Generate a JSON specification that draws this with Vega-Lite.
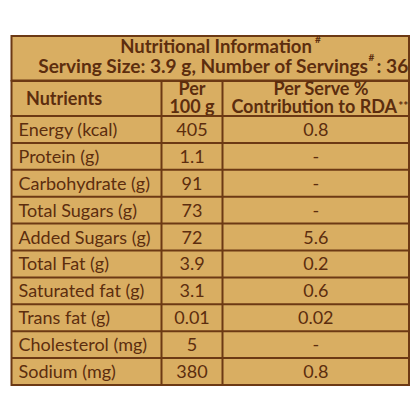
{
  "$schema": "https://vega.github.io/schema/vega-lite/v6.json",
  "description": "Nutritional information table: title, header and body stacked as three views.",
  "background": "white",
  "padding": {"left": 9.5, "top": 33, "right": 9, "bottom": 34.5},
  "spacing": 0,
  "bounds": "flush",
  "datasets": {
    "rows": [
      {"nutrient": "Energy (kcal)", "per100g": "405", "rda": "0.8"},
      {"nutrient": "Protein (g)", "per100g": "1.1", "rda": "-"},
      {"nutrient": "Carbohydrate (g)", "per100g": "91", "rda": "-"},
      {"nutrient": "Total Sugars (g)", "per100g": "73", "rda": "-"},
      {"nutrient": "Added Sugars (g)", "per100g": "72", "rda": "5.6"},
      {"nutrient": "Total Fat (g)", "per100g": "3.9", "rda": "0.2"},
      {"nutrient": "Saturated fat (g)", "per100g": "3.1", "rda": "0.6"},
      {"nutrient": "Trans fat (g)", "per100g": "0.01", "rda": "0.02"},
      {"nutrient": "Cholesterol (mg)", "per100g": "5", "rda": "-"},
      {"nutrient": "Sodium (mg)", "per100g": "380", "rda": "0.8"}
    ]
  },
  "vconcat": [
    {
      "width": 397.5,
      "height": 44.5,
      "data": {"values": [
        {"line": 1, "text": "Nutritional Information", "note": "#", "tail": ""},
        {"line": 2, "text": "Serving Size: 3.9 g, Number of Servings", "note": "#", "tail": ": 36"}
      ]},
      "encoding": {
        "y": {"field": "line", "type": "ordinal", "scale": {"type": "band", "paddingInner": 0, "paddingOuter": 0}, "axis": null}
      },
      "layer": [
        {
          "transform": [{"filter": "datum.line == 1"}],
          "mark": {"type": "text", "fontWeight": "bold", "fontSize": 18.5, "baseline": "alphabetic", "dx": 5.75, "dy": 5.9},
          "encoding": {"text": {"field": "text"}}
        },
        {
          "transform": [{"filter": "datum.line == 1"}],
          "mark": {"type": "text", "fontWeight": "bold", "fontSize": 10, "align": "left", "baseline": "alphabetic", "dx": 104.75, "dy": -4.2},
          "encoding": {"text": {"field": "note"}}
        },
        {
          "transform": [{"filter": "datum.line == 2"}],
          "mark": {"type": "text", "fontWeight": "bold", "fontSize": 19.1, "align": "right", "baseline": "alphabetic", "dx": 157.75, "dy": 3.6},
          "encoding": {"text": {"field": "text"}}
        },
        {
          "transform": [{"filter": "datum.line == 2"}],
          "mark": {"type": "text", "fontWeight": "bold", "fontSize": 10, "align": "left", "baseline": "alphabetic", "dx": 158.25, "dy": -8.5},
          "encoding": {"text": {"field": "note"}}
        },
        {
          "transform": [{"filter": "datum.line == 2"}],
          "mark": {"type": "text", "fontWeight": "bold", "fontSize": 19.1, "align": "left", "baseline": "alphabetic", "dx": 166.25, "dy": 3.6},
          "encoding": {"text": {"field": "tail"}}
        }
      ]
    },
    {
      "width": 397.5,
      "height": 35,
      "data": {"values": [
        {"nutrients": "Nutrients", "per": "Per\n100 g", "top": "Per Serve %", "bottom": "Contribution to RDA", "note": "**"}
      ]},
      "layer": [
        {
          "mark": {"type": "rule", "color": "#6c3914", "strokeWidth": 2},
          "encoding": {"x": {"datum": 0.37736, "type": "quantitative", "scale": {"domain": [0, 1], "nice": false}, "axis": null}}
        },
        {
          "mark": {"type": "rule", "color": "#6c3914", "strokeWidth": 2},
          "encoding": {"x": {"datum": 0.53082, "type": "quantitative", "scale": {"domain": [0, 1], "nice": false}, "axis": null}}
        },
        {
          "mark": {"type": "text", "fontWeight": "bold", "align": "left", "baseline": "alphabetic", "dx": 14.5, "dy": 6.7},
          "encoding": {
            "x": {"datum": 0, "type": "quantitative", "scale": {"domain": [0, 1], "nice": false}, "axis": null},
            "text": {"field": "nutrients"}
          }
        },
        {
          "mark": {"type": "text", "fontWeight": "bold", "baseline": "alphabetic", "lineBreak": "\n", "lineHeight": 17.6, "dy": -3.3},
          "encoding": {
            "x": {"datum": 0.45409, "type": "quantitative", "scale": {"domain": [0, 1], "nice": false}, "axis": null},
            "text": {"field": "per"}
          }
        },
        {
          "mark": {"type": "text", "fontWeight": "bold", "baseline": "alphabetic", "dx": 5.25, "dy": -3.3},
          "encoding": {
            "x": {"datum": 0.76541, "type": "quantitative", "scale": {"domain": [0, 1], "nice": false}, "axis": null},
            "text": {"field": "top"}
          }
        },
        {
          "mark": {"type": "text", "fontWeight": "bold", "align": "right", "baseline": "alphabetic", "dx": 81.25, "dy": 14.3},
          "encoding": {
            "x": {"datum": 0.76541, "type": "quantitative", "scale": {"domain": [0, 1], "nice": false}, "axis": null},
            "text": {"field": "bottom"}
          }
        },
        {
          "mark": {"type": "text", "fontWeight": "bold", "fontSize": 12, "align": "left", "baseline": "alphabetic", "dx": 82.5, "dy": 11.5},
          "encoding": {
            "x": {"datum": 0.76541, "type": "quantitative", "scale": {"domain": [0, 1], "nice": false}, "axis": null},
            "text": {"field": "note"}
          }
        }
      ]
    },
    {
      "width": 397.5,
      "height": 269,
      "data": {"name": "rows"},
      "encoding": {
        "y": {"field": "nutrient", "type": "ordinal", "sort": null, "scale": {"type": "band", "paddingInner": 0, "paddingOuter": 0}, "axis": null}
      },
      "layer": [
        {
          "mark": {"type": "rule", "color": "#6c3914", "strokeWidth": 2},
          "encoding": {"y": {"field": "nutrient", "type": "ordinal", "sort": null, "bandPosition": 0}}
        },
        {
          "transform": [{"aggregate": [{"op": "count", "as": "n"}]}],
          "mark": {"type": "rule", "color": "#6c3914", "strokeWidth": 2},
          "encoding": {
            "x": {"datum": 0.37736, "type": "quantitative", "scale": {"domain": [0, 1], "nice": false}, "axis": null},
            "y": null
          }
        },
        {
          "transform": [{"aggregate": [{"op": "count", "as": "n"}]}],
          "mark": {"type": "rule", "color": "#6c3914", "strokeWidth": 2},
          "encoding": {
            "x": {"datum": 0.53082, "type": "quantitative", "scale": {"domain": [0, 1], "nice": false}, "axis": null},
            "y": null
          }
        },
        {
          "mark": {"type": "text", "align": "left", "baseline": "alphabetic", "dx": 7, "dy": 6.5},
          "encoding": {
            "x": {"datum": 0, "type": "quantitative", "scale": {"domain": [0, 1], "nice": false}, "axis": null},
            "text": {"field": "nutrient"}
          }
        },
        {
          "mark": {"type": "text", "baseline": "alphabetic", "dy": 6.5},
          "encoding": {
            "x": {"datum": 0.45409, "type": "quantitative", "scale": {"domain": [0, 1], "nice": false}, "axis": null},
            "text": {"field": "per100g"}
          }
        },
        {
          "mark": {"type": "text", "baseline": "alphabetic", "dy": 6.5},
          "encoding": {
            "x": {"datum": 0.76541, "type": "quantitative", "scale": {"domain": [0, 1], "nice": false}, "axis": null},
            "text": {"field": "rda"}
          }
        }
      ]
    }
  ],
  "config": {
    "view": {"fill": "#d9ae62", "stroke": "#6c3914", "strokeWidth": 2},
    "text": {"font": "Lato", "fontSize": 18, "color": "#5c2d0e"}
  }
}
